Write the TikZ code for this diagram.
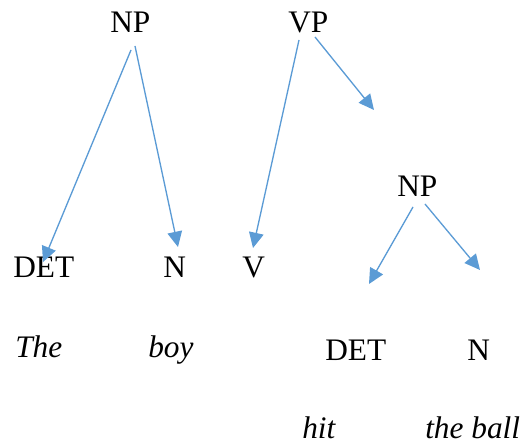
\documentclass[tikz,border=0pt]{standalone}
\usepackage{fontspec}
\setmainfont{Liberation Serif}
\usetikzlibrary{arrows.meta}
\definecolor{arrowblue}{HTML}{5B9BD5}
\begin{document}
\begin{tikzpicture}[x=0.75pt,y=-0.75pt,
  lbl/.style={anchor=base west, inner sep=0pt, font=\fontsize{23.5}{28}\selectfont},
  word/.style={anchor=base west, inner sep=0pt, font=\fontsize{23.5}{28}\selectfont\itshape},
  branch/.style={draw=arrowblue, line width=1pt, -{Triangle[length=11.5pt,width=11pt]}}]
\useasboundingbox (0,0) rectangle (522,445);
% labels
\node[lbl] (np1) at (110,33) {NP};
\node[lbl] (vp) at (288,33) {VP};
\node[lbl] (det1) at (13,278) {DET};
\node[lbl] (n1) at (163,278) {N};
\node[lbl] (v) at (242,278) {V};
\node[lbl] (np2) at (397,197) {NP};
\node[lbl] (det2) at (325,361) {DET};
\node[lbl] (n2) at (467,361) {N};
\node[word] (the) at (15,358) {The};
\node[word] (boy) at (148,358) {boy};
\node[word] (hit) at (302,439) {hit};
\node[word] (ball) at (425,439) {the ball};
% connector ends
\coordinate (s1) at (131,50);  \coordinate (e1) at (43,262);
\coordinate (s2) at (135,46);  \coordinate (e2) at (178,247);
\coordinate (s3) at (299,40);  \coordinate (e3) at (253,248);
\coordinate (s4) at (315,37);  \coordinate (e4) at (374,110);
\coordinate (s5) at (413,207); \coordinate (e5) at (369,284);
\coordinate (s6) at (425,204); \coordinate (e6) at (480,270);
\draw[branch] (s1) -- (e1);
\draw[branch] (s2) -- (e2);
\draw[branch] (s3) -- (e3);
\draw[branch] (s4) -- (e4);
\draw[branch] (s5) -- (e5);
\draw[branch] (s6) -- (e6);
\end{tikzpicture}
\end{document}
